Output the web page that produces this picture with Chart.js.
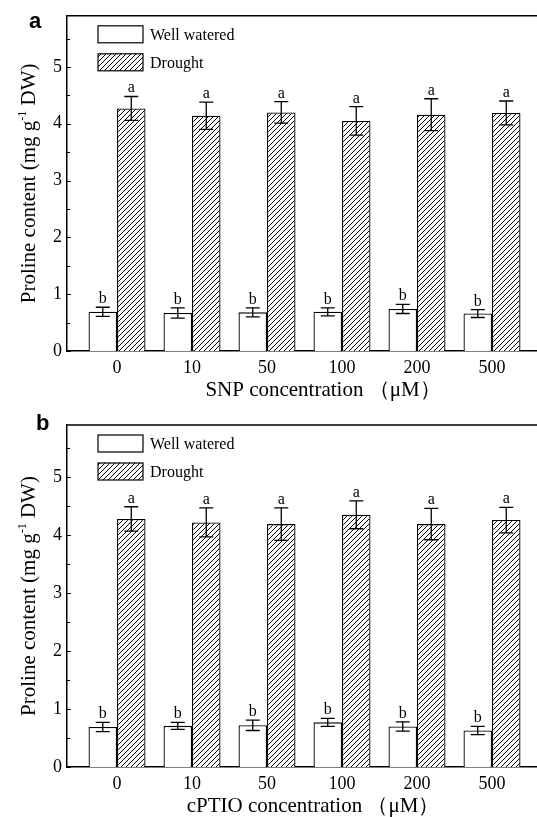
<!DOCTYPE html>
<html>
<head>
<meta charset="utf-8">
<script src="https://cdn.jsdelivr.net/npm/chart.js@4.4.1/dist/chart.umd.min.js"></script>
<style>
  html, body { margin: 0; padding: 0; background: #fff; }
  #wrap { position: relative; width: 537px; height: 817px; }
  canvas { position: absolute; left: 0; }
  #chartA { top: 0; }
  #chartB { top: 408px; }
</style>
</head>
<body>
<div id="wrap">
  <canvas id="chartA" width="537" height="408"></canvas>
  <canvas id="chartB" width="537" height="409"></canvas>
</div>
<script>
const categories = ['0', '10', '50', '100', '200', '500'];
const yTicks = [0, 1, 2, 3, 4, 5];

// panel a - SNP
const snpWell = [0.69, 0.67, 0.68, 0.69, 0.74, 0.66];
const snpWellErr = [0.08, 0.09, 0.08, 0.07, 0.08, 0.07];
const snpDrought = [4.27, 4.14, 4.20, 4.05, 4.16, 4.19];
const snpDroughtErr = [0.21, 0.24, 0.19, 0.25, 0.28, 0.21];

// panel b - cPTIO
const cptioWell = [0.69, 0.71, 0.72, 0.77, 0.70, 0.63];
const cptioWellErr = [0.08, 0.06, 0.09, 0.07, 0.08, 0.07];
const cptioDrought = [4.28, 4.22, 4.19, 4.35, 4.19, 4.26];
const cptioDroughtErr = [0.21, 0.25, 0.28, 0.24, 0.27, 0.22];

const wellLetters = ['b', 'b', 'b', 'b', 'b', 'b'];
const droughtLetters = ['a', 'a', 'a', 'a', 'a', 'a'];

const SERIF = '"Liberation Serif", "Times New Roman", serif';

function hatchPattern() {
    const s = 5;
    const c = document.createElement('canvas');
    c.width = s; c.height = s;
    const g = c.getContext('2d');
    g.fillStyle = '#fff';
    g.fillRect(0, 0, s, s);
    g.strokeStyle = '#000';
    g.lineWidth = 1;
    g.beginPath();
    g.moveTo(0, s); g.lineTo(s, 0);
    g.moveTo(-1, 1); g.lineTo(1, -1);
    g.moveTo(s - 1, s + 1); g.lineTo(s + 1, s - 1);
    g.stroke();
    return g.createPattern(c, 'repeat');
}

// error bars, letters, frame, inward ticks, legend and titles
const decor = {
    id: 'decor',
    afterDatasetsDraw(chart, args, opts) {
        const ctx = chart.ctx;
        const area = chart.chartArea;
        const y = chart.scales.y;
        ctx.save();
        ctx.strokeStyle = '#000';
        ctx.fillStyle = '#000';

        // top frame line
        ctx.lineWidth = 1.5;
        ctx.beginPath();
        ctx.moveTo(area.left, area.top);
        ctx.lineTo(area.right, area.top);
        ctx.stroke();

        // y ticks pointing inwards
        ctx.lineWidth = 1;
        y.ticks.forEach(t => {
            if (t.value > 5.5) return;
            const py = Math.round(y.getPixelForValue(t.value)) + 0.5;
            const len = yTicks.includes(t.value) ? 4 : 3;
            ctx.beginPath();
            ctx.moveTo(area.left, py);
            ctx.lineTo(area.left + len, py);
            ctx.stroke();
        });

        // error bars + significance letters
        chart.data.datasets.forEach((ds, di) => {
            const meta = chart.getDatasetMeta(di);
            meta.data.forEach((bar, i) => {
                const v = ds.data[i].y;
                const e = ds.errors[i];
                const top = y.getPixelForValue(v + e);
                const bot = y.getPixelForValue(v - e);
                ctx.lineWidth = 1.3;
                ctx.beginPath();
                ctx.moveTo(bar.x, top); ctx.lineTo(bar.x, bot);
                ctx.moveTo(bar.x - 7, top); ctx.lineTo(bar.x + 7, top);
                ctx.moveTo(bar.x - 7, bot); ctx.lineTo(bar.x + 7, bot);
                ctx.stroke();
                ctx.font = '16px ' + SERIF;
                ctx.textAlign = 'center';
                ctx.textBaseline = 'alphabetic';
                ctx.fillText(ds.letters[i], bar.x, top - 4);
            });
        });

        // legend
        chart.data.datasets.forEach((ds, di) => {
            const bx = area.left + 31;
            const by = area.top + 10 + di * 28;
            ctx.fillStyle = ds.backgroundColor;
            ctx.fillRect(bx, by, 45, 17);
            ctx.lineWidth = 1.2;
            ctx.strokeRect(bx, by, 45, 17);
            ctx.fillStyle = '#000';
            ctx.font = '16px ' + SERIF;
            ctx.textAlign = 'left';
            ctx.fillText(ds.label, bx + 52, by + 14);
        });

        // x axis title
        ctx.font = '21px ' + SERIF;
        ctx.textAlign = 'center';
        ctx.fillText(opts.xTitle, opts.xTitleX, area.bottom + 45);

        // y axis title with superscript
        ctx.save();
        ctx.translate(35, (area.top + area.bottom) / 2);
        ctx.rotate(-Math.PI / 2);
        const p1 = 'Proline content (mg g', sup = '-1', p2 = ' DW)';
        ctx.font = '21px ' + SERIF;
        const w1 = ctx.measureText(p1).width, w3 = ctx.measureText(p2).width;
        ctx.font = '12px ' + SERIF;
        const w2 = ctx.measureText(sup).width;
        let sx = -(w1 + w2 + w3) / 2;
        ctx.textAlign = 'left';
        ctx.font = '21px ' + SERIF;
        ctx.fillText(p1, sx, 0);
        sx += w1;
        ctx.font = '12px ' + SERIF;
        ctx.fillText(sup, sx, -9);
        sx += w2;
        ctx.font = '21px ' + SERIF;
        ctx.fillText(p2, sx, 0);
        ctx.restore();

        // panel letter
        ctx.font = 'bold 22px "Liberation Sans", Arial, sans-serif';
        ctx.textAlign = 'left';
        ctx.fillText(opts.panel, opts.panelX, opts.panelY);

        ctx.restore();
    }
};

function buildChart(id, well, wellErr, drought, droughtErr, layout) {
    return new Chart(document.getElementById(id), {
        type: 'bar',
        data: {
            datasets: [
                {
                    label: 'Well watered',
                    data: categories.map((c, i) => ({ x: i, y: well[i] })),
                    errors: wellErr,
                    letters: wellLetters,
                    backgroundColor: '#fff',
                    borderColor: '#000',
                    borderWidth: 1.3
                },
                {
                    label: 'Drought',
                    data: categories.map((c, i) => ({ x: i, y: drought[i] })),
                    errors: droughtErr,
                    letters: droughtLetters,
                    backgroundColor: hatchPattern(),
                    borderColor: '#000',
                    borderWidth: 1.3
                }
            ]
        },
        options: {
            responsive: false,
            animation: false,
            layout: { padding: { top: layout.top, left: 0, right: 0, bottom: 0 } },
            datasets: { bar: { categoryPercentage: 0.76, barPercentage: 1 } },
            plugins: {
                legend: { display: false },
                tooltip: { enabled: false },
                decor: {
                    xTitle: layout.xTitle,
                    xTitleX: layout.xTitleX,
                    panel: layout.panel,
                    panelX: layout.panelX,
                    panelY: layout.panelY
                }
            },
            scales: {
                x: {
                    type: 'linear',
                    offset: false,
                    bounds: 'data',
                    min: -0.667,
                    max: 5.6,
                    grid: { display: false, drawTicks: false, offset: false },
                    border: { display: true, color: '#000', width: 1.5 },
                    afterBuildTicks: s => {
                        s.ticks = categories.map((c, i) => ({ value: i }));
                    },
                    ticks: {
                        autoSkip: false,
                        maxRotation: 0,
                        padding: 6,
                        color: '#000',
                        font: { family: SERIF, size: 18 },
                        callback: v => categories[v]
                    },
                    afterFit: s => { s.height = layout.xHeight; }
                },
                y: {
                    min: 0,
                    max: 5.9,
                    grid: { display: false, drawTicks: false },
                    border: { display: true, color: '#000', width: 1.5 },
                    ticks: {
                        stepSize: 0.5,
                        padding: 5,
                        color: '#000',
                        font: { family: SERIF, size: 18 },
                        callback: v => yTicks.includes(v) ? String(v) : ''
                    },
                    afterFit: s => { s.width = 67; }
                }
            }
        },
        plugins: [decor]
    });
}

buildChart('chartA', snpWell, snpWellErr, snpDrought, snpDroughtErr, {
    top: 8, xHeight: 57, xTitle: 'SNP concentration （μM）', xTitleX: 323,
    panel: 'a', panelX: 29, panelY: 28
});
buildChart('chartB', cptioWell, cptioWellErr, cptioDrought, cptioDroughtErr, {
    top: 17, xHeight: 50, xTitle: 'cPTIO concentration （μM）', xTitleX: 313,
    panel: 'b', panelX: 36, panelY: 22
});
</script>
</body>
</html>
